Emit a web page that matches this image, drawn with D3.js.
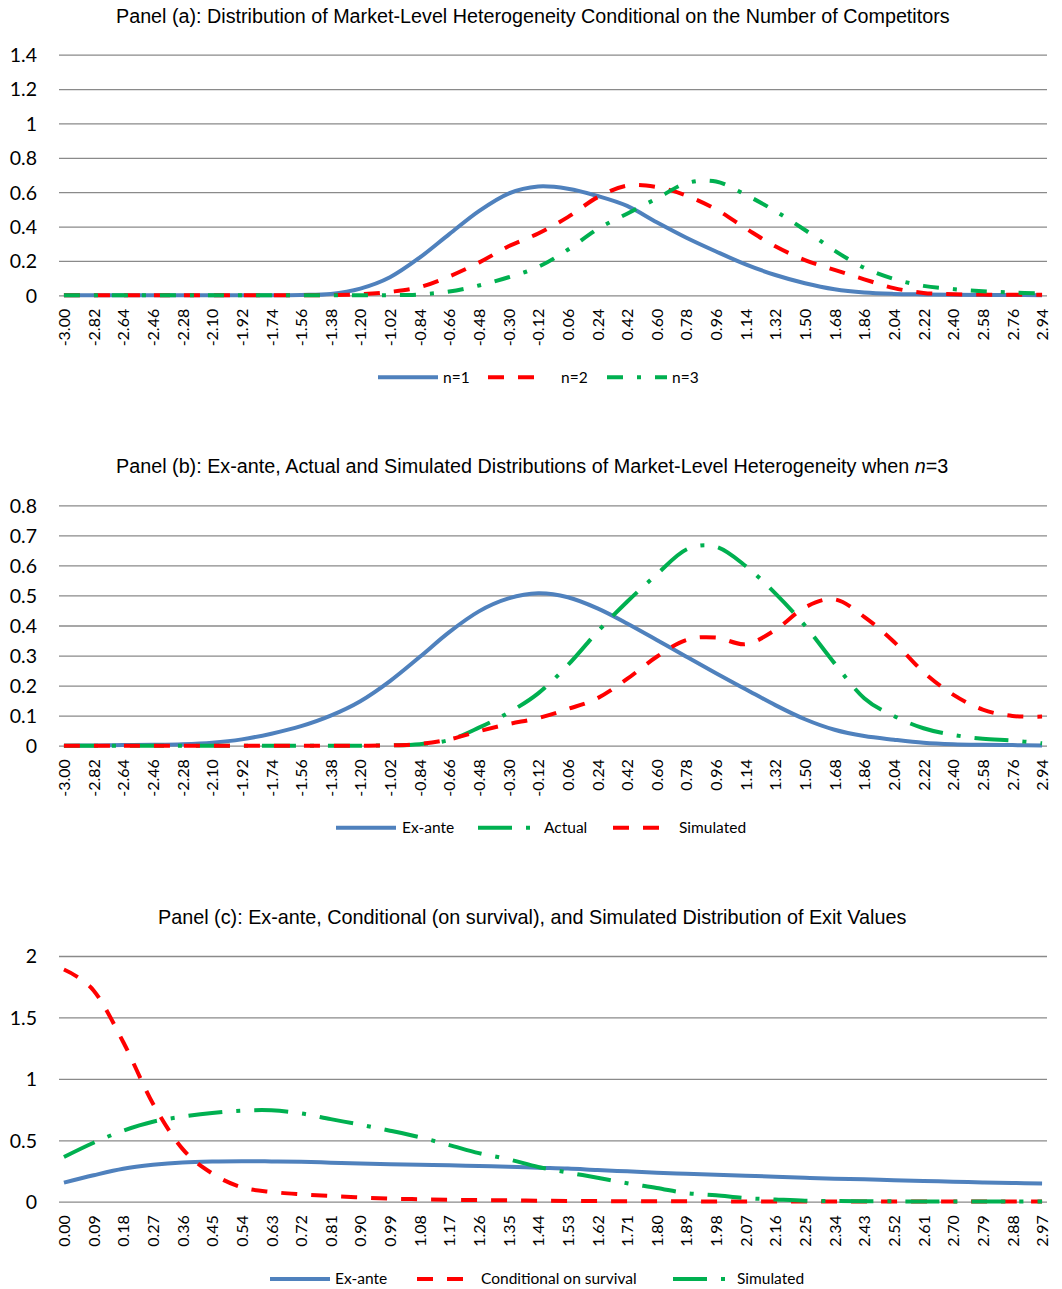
<!DOCTYPE html>
<html><head><meta charset="utf-8">
<script src="https://cdn.jsdelivr.net/npm/d3@7"></script>
<style>body{margin:0;background:#fff}svg{display:block}</style>
</head><body>
<svg id="chart" width="1062" height="1289"></svg>
<script>
// ---------------- DATA ----------------
const catsAB = ["-3.00","-2.82","-2.64","-2.46","-2.28","-2.10","-1.92","-1.74","-1.56","-1.38","-1.20","-1.02","-0.84","-0.66","-0.48","-0.30","-0.12","0.06","0.24","0.42","0.60","0.78","0.96","1.14","1.32","1.50","1.68","1.86","2.04","2.22","2.40","2.58","2.76","2.94"];
const catsC = ["0.00","0.09","0.18","0.27","0.36","0.45","0.54","0.63","0.72","0.81","0.90","0.99","1.08","1.17","1.26","1.35","1.44","1.53","1.62","1.71","1.80","1.89","1.98","2.07","2.16","2.25","2.34","2.43","2.52","2.61","2.70","2.79","2.88","2.97"];

// Panel (a)
const aN1 = [0,0,0,0,0,0,0,0,0.002,0.008,0.039,0.105,0.219,0.356,0.49,0.592,0.633,0.62,0.578,0.52,0.425,0.335,0.255,0.18,0.118,0.07,0.035,0.016,0.008,0.005,0.003,0.002,0.002,0.001];
const aN2 = [0,0,0,0,0,0,0,0,0,0.001,0.006,0.02,0.047,0.11,0.19,0.285,0.36,0.455,0.57,0.638,0.63,0.58,0.50,0.39,0.285,0.205,0.148,0.093,0.042,0.014,0.006,0.004,0.003,0.003];
const aN3 = [0,0,0,0,0,0,0,0,0,0,0,0.001,0.005,0.022,0.057,0.105,0.165,0.265,0.385,0.475,0.563,0.652,0.662,0.585,0.49,0.38,0.26,0.16,0.095,0.055,0.036,0.024,0.016,0.01];

// Panel (b)
const bExAnte = [0,0.001,0.002,0.003,0.005,0.01,0.021,0.04,0.065,0.10,0.148,0.215,0.295,0.378,0.447,0.49,0.507,0.494,0.457,0.407,0.352,0.296,0.241,0.188,0.135,0.088,0.053,0.032,0.02,0.01,0.005,0.003,0.002,0.001];
const bActual = [0,0,0,0,0,0,0,0,0,0,0,0.001,0.005,0.019,0.06,0.11,0.174,0.268,0.379,0.479,0.57,0.653,0.662,0.598,0.507,0.40,0.274,0.158,0.099,0.058,0.036,0.023,0.017,0.008];
const bSimulated = [0,0,0,0,0,0,0,0,0,0,0,0.001,0.006,0.021,0.048,0.072,0.092,0.122,0.158,0.222,0.296,0.352,0.36,0.338,0.385,0.46,0.487,0.429,0.346,0.245,0.17,0.12,0.099,0.097];

// Panel (c)
const cExAnte = [0.155,0.215,0.268,0.30,0.32,0.328,0.33,0.328,0.325,0.318,0.311,0.305,0.30,0.296,0.29,0.285,0.277,0.27,0.258,0.247,0.236,0.228,0.22,0.212,0.204,0.195,0.187,0.182,0.174,0.168,0.163,0.157,0.152,0.149];
const cConditional = [1.89,1.72,1.30,0.80,0.43,0.23,0.117,0.08,0.06,0.046,0.035,0.025,0.02,0.016,0.013,0.011,0.008,0.006,0.005,0.004,0.003,0.003,0.002,0.002,0.002,0.002,0.001,0.001,0.001,0.001,0.001,0.001,0.001,0.001];
const cSimulated = [0.364,0.48,0.578,0.651,0.692,0.722,0.741,0.744,0.719,0.672,0.627,0.578,0.525,0.461,0.395,0.345,0.283,0.238,0.195,0.15,0.112,0.07,0.052,0.029,0.018,0.008,0.005,0.004,0.003,0.002,0.002,0.001,0.001,0.001];

// Y tick labels
const yTicksA = ["0","0.2","0.4","0.6","0.8","1","1.2","1.4"];
const yTicksB = ["0","0.1","0.2","0.3","0.4","0.5","0.6","0.7","0.8"];
const yTicksC = ["0","0.5","1","1.5","2"];

// ---------------- STYLES / LAYOUT ----------------
const BLUE = "#4F81BD", RED = "#FF0000", GREEN = "#00B050";
const styles = {
  solid:   {color: BLUE,  dash: null},
  dash:    {color: RED,   dash: "16,14"},
  dashDot: {color: GREEN, dash: "16,14,4,14"},
  longDashDot: {color: GREEN, dash: "34,14,4,14"}
};

const panels = [
  {
    title: [{t:"Panel (a): Distribution of Market-Level Heterogeneity Conditional on the Number of Competitors"}],
    titleX: 116, titleW: 834, titleY: 22.7,
    cats: catsAB, step: 0.06, yTicks: yTicksA,
    top: 54.7, bottom: 295.3,
    series: [
      {name:"n=1", values:aN1, style:"solid"},
      {name:"n=2", values:aN2, style:"dash"},
      {name:"n=3", values:aN3, style:"dashDot"}
    ],
    legendY: 377.3,
    legend: [{x0:378, tx:443},{x0:488, tx:561},{x0:607, tx:672}]
  },
  {
    title: [{t:"Panel (b): Ex-ante, Actual and Simulated Distributions of Market-Level Heterogeneity when "},{t:"n", it:true},{t:"=3"}],
    titleX: 116, titleW: 833, titleY: 472.7,
    cats: catsAB, step: 0.06, yTicks: yTicksB,
    top: 505.3, bottom: 745.7,
    series: [
      {name:"Ex-ante", values:bExAnte, style:"solid"},
      {name:"Actual", values:bActual, style:"longDashDot"},
      {name:"Simulated", values:bSimulated, style:"dash"}
    ],
    legendY: 827.8,
    legend: [{x0:336, tx:402},{x0:478, tx:544},{x0:613, tx:679}]
  },
  {
    title: [{t:"Panel (c): Ex-ante, Conditional (on survival), and Simulated Distribution of Exit Values"}],
    titleX: 158, titleW: 749, titleY: 923.5,
    cats: catsC, step: 0.03, yTicks: yTicksC,
    top: 956, bottom: 1201.7,
    series: [
      {name:"Ex-ante", values:cExAnte, style:"solid"},
      {name:"Conditional on survival", values:cConditional, style:"dash"},
      {name:"Simulated", values:cSimulated, style:"longDashDot"}
    ],
    legendY: 1279,
    legend: [{x0:270, tx:335},{x0:417, tx:481},{x0:673, tx:737}]
  }
];

const PLOT_L = 59, PLOT_R = 1047;
const svg = d3.select("#chart");
svg.append("rect").attr("width",1062).attr("height",1289).attr("fill","#fff");

panels.forEach(p => {
  const g = svg.append("g");
  const yVals = p.yTicks.map(Number);
  const yMax = d3.max(yVals);
  const first = +p.cats[0], last = +p.cats[p.cats.length-1];
  const x = d3.scaleLinear().domain([first - p.step/2, last + p.step/2]).range([PLOT_L, PLOT_R]);
  const y = d3.scaleLinear().domain([0, yMax]).range([p.bottom, p.top]);

  // gridlines
  const yAxis = d3.axisLeft(y).tickValues(yVals).tickSize(-(PLOT_R-PLOT_L)).tickFormat((d,i)=>p.yTicks[i]).tickPadding(PLOT_L-37);
  const ya = g.append("g").attr("transform",`translate(${PLOT_L},0)`).call(yAxis);
  ya.select(".domain").remove();
  ya.selectAll(".tick line").attr("stroke","#8a8a8a").attr("stroke-width",1.3);
  ya.selectAll(".tick text").attr("font-family","Lato, 'Open Sans', sans-serif").attr("font-size","19.5px").attr("fill","#000").attr("dy","0.35em");

  // x labels
  const xAxis = d3.axisBottom(x).tickValues(p.cats.map(Number)).tickSize(0).tickFormat((d,i)=>p.cats[i]);
  const xa = g.append("g").attr("transform",`translate(0,${p.bottom})`).call(xAxis);
  xa.select(".domain").remove();
  xa.selectAll(".tick text")
    .attr("font-family","Lato, 'Open Sans', sans-serif").attr("font-size","16px").attr("fill","#000")
    .attr("text-anchor","end").attr("transform","rotate(-90)")
    .attr("x",-13.5).attr("y",0).attr("dy","0.35em");

  // lines
  const line = d3.line().x(d=>x(d.c)).y(d=>y(d.v)).curve(d3.curveCatmullRom.alpha(0));
  p.series.forEach(s => {
    const st = styles[s.style];
    const pts = p.cats.map((c,i)=>({c:+c, v:s.values[i]}));
    g.append("path").datum(pts).attr("d", line)
      .attr("fill","none").attr("stroke",st.color).attr("stroke-width",4)
      .attr("stroke-dasharray", st.dash).attr("stroke-linejoin","round");
  });

  // title
  const tt = g.append("text").attr("x",p.titleX).attr("y",p.titleY)
    .attr("font-family","'Liberation Sans', Arial, sans-serif").attr("font-size","18px").attr("fill","#000");
  p.title.forEach(part => {
    const ts = tt.append("tspan").text(part.t);
    if (part.it) ts.attr("font-style","italic");
  });
  const w = tt.node().getComputedTextLength();
  tt.attr("font-size", (18*p.titleW/w).toFixed(2)+"px");

  // legend
  p.series.forEach((s,i) => {
    const st = styles[s.style];
    const L = p.legend[i];
    g.append("line").attr("x1",L.x0).attr("x2",L.x0+60).attr("y1",p.legendY).attr("y2",p.legendY)
      .attr("stroke",st.color).attr("stroke-width",4).attr("stroke-dasharray",st.dash);
    g.append("text").attr("x",L.tx).attr("y",p.legendY).attr("dy","0.35em")
      .attr("font-family","Lato, 'Open Sans', sans-serif").attr("font-size","15.5px").attr("fill","#000")
      .text(s.name);
  });
});
</script>
</body></html>
